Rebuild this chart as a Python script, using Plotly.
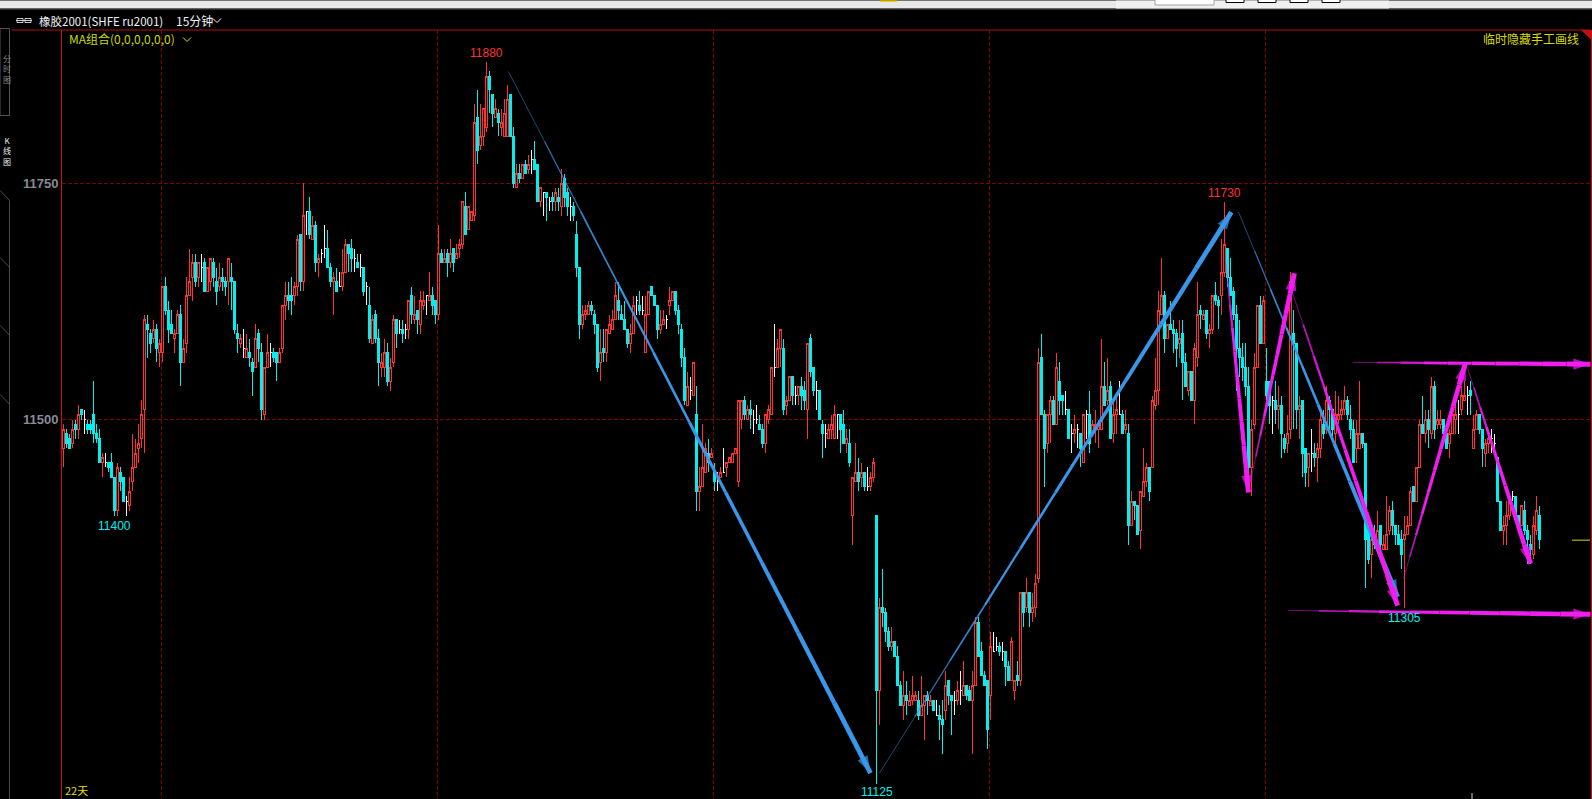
import math
import plotly.graph_objects as go

open_ = [
11470,11485,11480,11475,11495,11490,11510,11500,11495,11495,
11505,11485,11480,11455,11455,11455,11455,11440,11405,11445,
11440,11415,11410,11435,11450,11470,11480,11510,11600,11590,
11585,11595,11570,11570,11640,11615,11600,11585,11590,11610,
11560,11580,11630,11650,11665,11650,11660,11665,11635,11645,
11665,11645,11640,11650,11645,11645,11650,11645,11590,11580,
11575,11565,11570,11560,11555,11590,11570,11505,11555,11570,
11570,11570,11560,11575,11620,11630,11630,11630,11640,11695,
11645,11720,11720,11690,11705,11665,11675,11680,11680,11660,
11645,11645,11640,11640,11655,11685,11680,11670,11665,11660,
11660,11640,11620,11580,11610,11585,11555,11555,11570,11540,
11560,11605,11595,11595,11595,11595,11630,11605,11615,11600,
11620,11630,11625,11630,11625,11610,11675,11665,11675,11665,
11680,11670,11680,11685,11725,11700,11710,11715,11820,11790,
11800,11810,11865,11845,11820,11825,11810,11800,11800,11845,
11800,11745,11760,11755,11770,11765,11775,11775,11770,11730,
11740,11740,11730,11735,11730,11735,11725,11755,11740,11725,
11725,11695,11660,11600,11610,11610,11620,11610,11600,11560,
11575,11570,11590,11595,11605,11625,11610,11605,11595,11580,
11590,11625,11620,11615,11570,11610,11640,11630,11620,11595,
11600,11605,11620,11625,11635,11615,11595,11565,11515,11530,
11525,11505,11425,11430,11445,11465,11460,11445,11435,11440,
11445,11450,11455,11455,11465,11435,11500,11520,11500,11510,
11500,11500,11495,11490,11475,11500,11505,11555,11555,11575,
11575,11515,11520,11545,11525,11525,11535,11530,11510,11585,
11555,11530,11530,11495,11485,11480,11490,11480,11505,11505,
11495,11475,11475,11400,11435,11445,11440,11445,11430,11430,
11440,11400,11220,11305,11300,11280,11265,11270,11255,11225,
11205,11215,11205,11210,11210,11210,11195,11205,11215,11205,
11210,11195,11195,11190,11200,11230,11215,11210,11210,11220,
11215,11225,11220,11210,11225,11290,11260,11235,11230,11215,
11260,11265,11265,11260,11260,11245,11230,11220,11235,11230,
11320,11305,11320,11300,11305,11335,11565,11505,11475,11505,
11520,11495,11540,11525,11510,11510,11485,11485,11490,11485,
11455,11505,11505,11485,11490,11490,11490,11535,11520,11535,
11485,11505,11505,11505,11490,11485,11390,11415,11410,11385,
11420,11435,11450,11450,11515,11530,11610,11630,11585,11600,
11595,11590,11580,11590,11560,11530,11550,11520,11565,11615,
11605,11615,11590,11595,11630,11625,11630,11655,11680,11650,
11635,11610,11575,11565,11555,11535,11450,11495,11555,11620,
11580,11540,11540,11520,11520,11510,11515,11480,11475,11490,
11590,11580,11510,11520,11470,11450,11465,11465,11460,11470,
11495,11490,11520,11510,11485,11500,11505,11510,11520,11500,
11490,11470,11470,11485,11475,11390,11360,11375,11370,11390,
11365,11365,11385,11405,11390,11380,11375,11375,11380,11390,
11430,11415,11450,11495,11485,11500,11485,11535,11495,11495,
11500,11485,11475,11485,11500,11505,11510,11520,11525,11530,
11470,11490,11505,11490,11465,11475,11480,11475,11460,11415,
11385,11390,11400,11420,11420,11400,11390,11405,11385,11370,
11360,11385,11400]

high = [
11495,11490,11485,11500,11500,11515,11510,11510,11500,11500,
11540,11495,11490,11465,11465,11455,11465,11440,11455,11450,
11440,11420,11440,11485,11480,11495,11520,11610,11610,11595,
11605,11600,11585,11640,11650,11625,11615,11595,11615,11620,
11585,11650,11680,11675,11675,11665,11675,11670,11660,11670,
11670,11660,11665,11660,11650,11670,11665,11645,11600,11590,
11595,11590,11585,11565,11600,11595,11580,11555,11590,11580,
11575,11570,11575,11620,11645,11645,11650,11645,11695,11695,
11750,11720,11735,11715,11710,11675,11680,11705,11700,11665,
11655,11660,11655,11680,11690,11685,11690,11680,11675,11675,
11660,11645,11640,11610,11615,11595,11570,11585,11580,11565,
11610,11605,11605,11605,11600,11625,11640,11630,11615,11635,
11635,11630,11655,11640,11625,11705,11680,11680,11680,11690,
11680,11685,11690,11730,11740,11725,11720,11835,11850,11835,
11830,11880,11870,11845,11840,11830,11830,11840,11855,11845,
11810,11770,11770,11770,11775,11780,11785,11795,11770,11745,
11740,11740,11735,11740,11745,11745,11765,11760,11745,11735,
11730,11710,11660,11620,11620,11625,11625,11615,11600,11595,
11595,11595,11610,11615,11645,11645,11620,11625,11595,11600,
11630,11630,11635,11630,11630,11635,11640,11630,11620,11615,
11615,11610,11640,11635,11635,11620,11600,11575,11550,11545,
11560,11535,11450,11495,11475,11480,11470,11455,11445,11450,
11470,11455,11460,11465,11470,11520,11520,11525,11515,11520,
11510,11515,11505,11495,11505,11515,11555,11600,11585,11595,
11585,11525,11545,11545,11535,11535,11545,11540,11580,11590,
11555,11540,11530,11500,11495,11495,11505,11515,11505,11505,
11510,11490,11490,11440,11475,11460,11455,11445,11450,11445,
11460,11400,11315,11345,11305,11285,11285,11270,11265,11230,
11240,11230,11220,11235,11220,11220,11235,11215,11220,11215,
11210,11210,11205,11210,11240,11230,11215,11220,11230,11240,
11250,11225,11225,11240,11295,11295,11270,11240,11230,11280,
11280,11275,11270,11270,11260,11250,11275,11230,11250,11320,
11320,11335,11320,11320,11340,11575,11590,11510,11505,11525,
11525,11570,11560,11525,11530,11510,11495,11505,11495,11485,
11505,11510,11530,11500,11510,11500,11585,11560,11565,11540,
11520,11525,11540,11510,11510,11495,11425,11415,11410,11425,
11470,11455,11450,11525,11565,11635,11670,11635,11600,11625,
11605,11595,11605,11605,11570,11550,11550,11580,11645,11620,
11615,11615,11600,11630,11645,11630,11690,11730,11680,11670,
11640,11620,11605,11580,11580,11555,11500,11570,11620,11630,
11630,11575,11540,11525,11540,11535,11525,11485,11505,11655,
11615,11580,11525,11520,11470,11465,11490,11475,11475,11510,
11510,11535,11525,11510,11530,11525,11520,11535,11525,11515,
11500,11500,11540,11485,11475,11400,11390,11390,11405,11390,
11380,11420,11410,11415,11390,11390,11385,11400,11400,11430,
11430,11450,11500,11525,11510,11510,11545,11540,11510,11510,
11500,11485,11490,11510,11520,11520,11535,11540,11535,11540,
11505,11510,11505,11490,11480,11485,11490,11485,11460,11415,
11400,11415,11420,11425,11420,11400,11410,11415,11390,11380,
11400,11420,11410]

low = [
11450,11470,11470,11470,11480,11480,11500,11485,11485,11485,
11475,11475,11455,11440,11450,11445,11440,11400,11400,11425,
11415,11400,11405,11425,11450,11455,11470,11465,11565,11570,
11580,11560,11555,11560,11610,11580,11590,11570,11590,11535,
11560,11570,11630,11625,11640,11640,11645,11635,11635,11635,
11640,11620,11635,11635,11630,11620,11615,11590,11570,11575,
11565,11565,11555,11525,11555,11560,11500,11500,11555,11555,
11560,11540,11560,11570,11605,11615,11610,11620,11630,11635,
11635,11695,11690,11690,11655,11650,11665,11670,11660,11640,
11610,11635,11640,11635,11655,11655,11655,11655,11660,11650,
11630,11620,11580,11580,11580,11535,11545,11545,11535,11530,
11555,11575,11590,11580,11585,11585,11600,11600,11590,11590,
11615,11610,11625,11610,11600,11605,11665,11665,11650,11660,
11655,11670,11670,11680,11695,11700,11710,11710,11770,11785,
11790,11805,11825,11810,11820,11800,11800,11800,11800,11800,
11745,11745,11750,11755,11760,11760,11760,11765,11730,11725,
11715,11710,11720,11720,11720,11720,11715,11725,11715,11710,
11710,11650,11585,11595,11605,11610,11610,11590,11550,11540,
11560,11560,11590,11595,11605,11605,11605,11595,11575,11570,
11590,11610,11610,11610,11570,11610,11630,11620,11585,11590,
11600,11595,11610,11625,11610,11590,11555,11515,11515,11520,
11525,11405,11405,11430,11445,11445,11460,11425,11425,11440,
11445,11440,11455,11455,11465,11430,11490,11500,11500,11490,
11485,11495,11490,11470,11465,11495,11505,11545,11555,11555,
11505,11505,11520,11515,11515,11515,11510,11510,11480,11545,
11525,11510,11500,11460,11470,11480,11480,11480,11480,11465,
11475,11465,11450,11370,11435,11425,11430,11425,11425,11425,
11435,11125,11185,11285,11270,11260,11260,11255,11225,11205,
11190,11195,11205,11205,11210,11190,11195,11170,11195,11205,
11200,11195,11170,11155,11190,11205,11175,11195,11205,11205,
11215,11210,11210,11155,11225,11255,11235,11225,11160,11190,
11260,11260,11255,11250,11225,11230,11230,11210,11225,11225,
11285,11300,11285,11290,11295,11330,11505,11430,11465,11475,
11495,11495,11505,11505,11505,11480,11465,11475,11470,11450,
11455,11480,11465,11485,11475,11470,11490,11515,11515,11480,
11475,11485,11505,11485,11485,11370,11390,11395,11380,11365,
11420,11430,11415,11450,11510,11515,11610,11570,11585,11595,
11570,11555,11565,11520,11535,11525,11520,11495,11555,11595,
11605,11585,11575,11590,11620,11595,11610,11650,11640,11630,
11605,11530,11545,11540,11525,11430,11420,11490,11555,11580,
11580,11515,11495,11485,11495,11490,11460,11465,11465,11480,
11490,11490,11480,11440,11430,11430,11445,11450,11435,11460,
11480,11485,11485,11480,11475,11495,11500,11505,11500,11480,
11455,11455,11470,11470,11325,11350,11335,11365,11360,11360,
11365,11365,11380,11380,11370,11370,11345,11305,11380,11390,
11415,11415,11450,11485,11475,11470,11480,11480,11490,11490,
11475,11470,11460,11485,11485,11485,11505,11520,11505,11505,
11470,11490,11485,11450,11450,11465,11465,11465,11415,11385,
11370,11370,11395,11415,11395,11390,11390,11380,11350,11350,
11355,11380,11365]

close = [
11490,11475,11470,11490,11490,11505,11505,11500,11490,11490,
11485,11480,11455,11460,11455,11450,11440,11405,11450,11435,
11415,11415,11425,11450,11465,11475,11505,11605,11595,11580,
11595,11575,11580,11640,11615,11595,11590,11590,11610,11560,
11575,11630,11645,11665,11645,11665,11660,11635,11660,11670,
11650,11635,11650,11645,11640,11670,11645,11595,11585,11585,
11575,11575,11565,11550,11585,11575,11510,11555,11570,11570,
11565,11560,11570,11620,11630,11625,11625,11640,11690,11645,
11715,11720,11695,11705,11665,11670,11675,11680,11660,11645,
11650,11635,11640,11655,11685,11675,11670,11670,11660,11660,
11635,11640,11585,11605,11585,11560,11560,11570,11540,11555,
11605,11590,11595,11590,11595,11625,11610,11610,11605,11625,
11625,11630,11630,11620,11610,11675,11665,11670,11665,11675,
11665,11675,11685,11730,11695,11725,11720,11815,11785,11800,
11830,11865,11850,11825,11830,11815,11815,11825,11840,11800,
11750,11760,11755,11770,11760,11770,11775,11765,11730,11745,
11740,11735,11730,11730,11740,11730,11750,11735,11725,11725,
11715,11660,11600,11610,11615,11620,11615,11600,11555,11570,
11570,11595,11600,11605,11630,11615,11605,11595,11580,11590,
11620,11625,11615,11615,11610,11635,11630,11620,11595,11600,
11605,11605,11625,11635,11615,11600,11565,11520,11535,11530,
11560,11425,11430,11450,11470,11455,11465,11435,11435,11445,
11445,11455,11460,11465,11470,11520,11520,11505,11510,11505,
11500,11500,11490,11475,11505,11510,11555,11555,11575,11595,
11510,11520,11545,11525,11525,11535,11525,11520,11580,11550,
11530,11530,11500,11485,11485,11490,11495,11505,11505,11490,
11475,11480,11455,11440,11445,11435,11445,11430,11430,11440,
11455,11220,11305,11300,11280,11265,11270,11255,11225,11205,
11215,11210,11210,11215,11215,11195,11205,11215,11210,11210,
11200,11195,11190,11185,11225,11215,11210,11210,11220,11220,
11225,11215,11210,11225,11290,11255,11235,11225,11180,11265,
11260,11265,11260,11260,11245,11230,11270,11230,11230,11320,
11300,11320,11300,11305,11330,11560,11505,11470,11505,11520,
11495,11555,11520,11520,11510,11480,11485,11490,11490,11470,
11505,11505,11475,11495,11495,11495,11535,11515,11530,11480,
11505,11510,11505,11485,11495,11390,11415,11410,11380,11425,
11435,11450,11425,11520,11530,11615,11630,11585,11600,11595,
11590,11575,11585,11560,11535,11550,11520,11575,11610,11610,
11610,11590,11595,11630,11625,11620,11655,11685,11650,11630,
11610,11575,11565,11555,11535,11450,11490,11555,11620,11580,
11625,11525,11515,11520,11510,11515,11485,11470,11485,11645,
11580,11510,11515,11465,11445,11465,11465,11460,11470,11500,
11485,11520,11510,11490,11505,11505,11510,11520,11505,11490,
11455,11485,11485,11475,11375,11355,11375,11370,11385,11370,
11370,11380,11405,11390,11380,11370,11360,11380,11390,11425,
11415,11450,11495,11485,11500,11490,11535,11490,11500,11500,
11485,11470,11485,11505,11505,11505,11525,11525,11525,11525,
11490,11505,11490,11470,11475,11480,11480,11475,11415,11385,
11390,11400,11415,11420,11400,11390,11410,11385,11375,11365,
11390,11405,11375]

y_ticks = [11500, 11750]
x_grid = [32.67, 124.67, 216.67, 308.67, 400.67]
extreme_labels = [("11880", 141, 11880, 9, "#ff3232"), ("11400", 17, 11400, -10, "#00f0f0"),
                  ("11125", 271, 11125, -8, "#00f0f0"), ("11730", 387, 11730, 9, "#ff3232"),
                  ("11305", 447, 11305, -10, "#00f0f0")]
BLUE = "58,150,232"
MAGENTA = "240,28,240"
trendlines = [
    (148.3, 11870, 269, 11136, BLUE), (272, 11136, 389.3, 11719, BLUE), (391.7, 11719, 444.7, 11316, BLUE),
    (387.3, 11671, 395, 11424, MAGENTA), (396, 11440, 410.3, 11654, MAGENTA), (409.7, 11633, 444.7, 11307, MAGENTA),
    (446.7, 11335, 467.3, 11559, MAGENTA), (468, 11554, 489, 11350, MAGENTA),
    (429.7, 11560, 509, 11558, MAGENTA), (408.3, 11302, 509, 11298, MAGENTA),
]

n = len(close)
assert len(open_) == n and len(high) == n and len(low) == n
idx = list(range(n))
P_L, P_R, P_T, P_B = 62, 1591, 29.5, 799
W, H = 1592, 799
def px(x): return (x - P_L) / (P_R - P_L)
def py(y): return 1 - (y - P_T) / (P_B - P_T)

fig = go.Figure()
def candles(sel, inc, dec):
    fig.add_trace(go.Candlestick(
        x=[idx[i] for i in sel], open=[open_[i] for i in sel], high=[high[i] for i in sel],
        low=[low[i] for i in sel], close=[close[i] for i in sel],
        increasing=dict(line=dict(color=inc, width=1), fillcolor="#000000"),
        decreasing=dict(line=dict(color=dec, width=1), fillcolor=dec),
        whiskerwidth=0, hoverinfo="skip", showlegend=False))
candles([i for i in idx if close[i] > open_[i]], "#ff3232", "#ff3232")
candles([i for i in idx if close[i] < open_[i]], "#00f0f0", "#00f0f0")
candles([i for i in idx if close[i] == open_[i]], "#f0f0f0", "#f0f0f0")

STEPS = 10
for x0, p0, x1, p1, rgb in trendlines:
    l0, l1 = math.log(p0), math.log(p1)
    power = 1.0 if rgb == BLUE else 0.7
    for s in range(STEPS):
        a, b = s / STEPS, (s + 1) / STEPS
        fig.add_trace(go.Scatter(
            x=[x0 + (x1 - x0) * a, x0 + (x1 - x0) * b],
            y=[math.exp(l0 + (l1 - l0) * a), math.exp(l0 + (l1 - l0) * b)],
            mode="lines", line=dict(color=f"rgba({rgb},{min(1, 0.5 + 1.25 * b):.2f})", width=0.8 + 4.5 * a ** power),
            hoverinfo="skip", showlegend=False))
    fig.add_trace(go.Scatter(
        x=[x0, x1], y=[p0, p1], mode="markers",
        marker=dict(symbol="arrow", angleref="previous", size=[0, 18], color=f"rgb({rgb})", line=dict(width=0)),
        hoverinfo="skip", showlegend=False))

shapes = []
def rect(x0, y0, x1, y1, fill, line=None):
    shapes.append(dict(type="rect", xref="paper", yref="paper", x0=px(x0), x1=px(x1), y0=py(y1), y1=py(y0),
                       fillcolor=fill, line=dict(width=1 if line else 0, color=line or fill), layer="above"))
def seg(x0, y0, x1, y1, color, width=1):
    shapes.append(dict(type="line", xref="paper", yref="paper", x0=px(x0), x1=px(x1), y0=py(y0), y1=py(y1),
                       line=dict(color=color, width=width), layer="above"))

rect(0, 0, W, 8, "#e8e8e8")
seg(0, 8.5, W, 8.5, "#555555", 1)
rect(880, 0, 897, 1.5, "#f0d000")
rect(1116, 0, 1389, 8, "#f0f0f0")
rect(1155, -2, 1214, 4.5, "#ffffff", "#a0a0a0")
for xb in [1226, 1258, 1290, 1322]:
    rect(xb, -2, 1244 + xb - 1226, 2, "#ffffff", "#000000")
seg(12, 29.5, 1591, 29.5, "#b01010", 1)
shapes.append(dict(type="path", xref="paper", yref="paper", layer="above", fillcolor="#c01010", line=dict(width=0),
                   path=f"M {px(1581)} {py(29.5)} L {px(1591)} {py(29.5)} L {px(1591)} {py(39)} Z"))
seg(16, 20, 32, 20, "#cccccc", 1)
rect(17, 18, 23, 22, "rgba(0,0,0,0)", "#cccccc")
rect(25, 18, 31, 22, "rgba(0,0,0,0)", "#cccccc")
seg(213, 18, 217, 22, "#eeeeee", 1); seg(217, 22, 221, 18, "#eeeeee", 1)
seg(183, 37, 187, 41, "#e0e000", 1); seg(187, 41, 191, 37, "#e0e000", 1)
seg(1572, 540, 1590, 540, "#e0d800", 1)
seg(1472, 793, 1472, 799, "#d0d0d0", 1)
rect(0, 28, 9.5, 115, "rgba(0,0,0,0)", "#555555")
seg(9.5, 200, 9.5, 799, "#4a4a4a", 1)
for yb in [196, 263, 331, 400]:
    seg(0, yb - 6, 9.5, yb + 4, "#4a4a4a", 1)

CJK = "Noto Sans CJK SC"
anns = []
def text(x, y, s, color, size=12, anchor="left", family=CJK):
    anns.append(dict(xref="paper", yref="paper", x=px(x), y=py(y), text=s, showarrow=False, xanchor=anchor,
                     yanchor="middle", font=dict(family=family, size=size, color=color)))
text(37, 20, "橡胶2001(SHFE ru2001)", "#f0f0f0", 11.5)
text(174, 20, "15分钟", "#f0f0f0", 12)
text(67, 38, "MA组合(0,0,0,0,0,0)", "#c8d800", 12)
text(1581, 38, "临时隐藏手工画线", "#d8d800", 12, anchor="right")
text(63, 790, "22天", "#e0e000", 11)
text(0.5, 69, "分<br>时<br>图", "#8a8a8a", 8)
text(0.5, 151, "K<br>线<br>图", "#f0f0f0", 8)
for label, i, price, shift, col in extreme_labels:
    anns.append(dict(x=i, y=math.log10(price), xref="x", yref="y", text=label, showarrow=False, yshift=shift,
                     font=dict(family="Liberation Sans", size=12, color=col)))

fig.update_layout(
    width=W, height=H, autosize=False, margin=dict(l=P_L, r=W - P_R, t=P_T, b=H - P_B, pad=0),
    paper_bgcolor="#000000", plot_bgcolor="#000000", showlegend=False,
    boxgap=1 / 3, boxgroupgap=0, boxmode="overlay",
    shapes=shapes, annotations=anns,
    xaxis=dict(range=[-0.5, -0.5 + (P_R - P_L) / 3], rangeslider=dict(visible=False), tickmode="array", tickvals=x_grid,
               showticklabels=False, ticks="", showgrid=True, griddash="4px,2px", gridcolor="#820000", gridwidth=1,
               zeroline=False, showline=False),
    yaxis=dict(type="log", range=[math.log10(11109.8), math.log10(11914.8)], tickmode="array", tickvals=y_ticks,
               ticktext=[str(v) for v in y_ticks], tickfont=dict(family="Liberation Sans", size=13, color="#868b96", weight="bold"),
               ticks="", showgrid=True, griddash="4px,2px", gridcolor="#820000", gridwidth=1, zeroline=False,
               showline=True, linecolor="#d01010", linewidth=1, mirror=True),
)
fig.write_html("out.html", config={"displayModeBar": False},
               post_script="document.body.style.margin='0';document.body.style.overflow='hidden';"
                           "document.querySelectorAll('.boxes path').forEach(function(p){p.style.shapeRendering='crispEdges';});")
